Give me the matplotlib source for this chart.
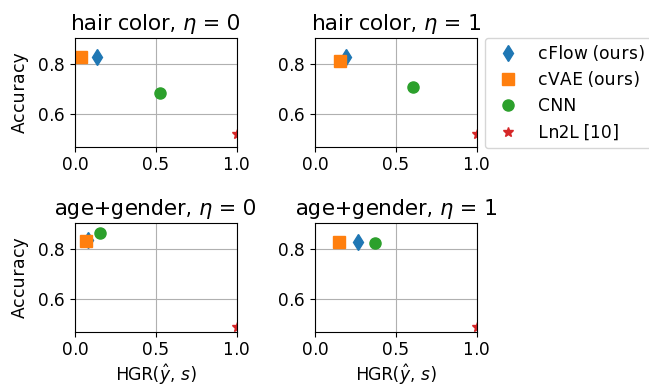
import matplotlib
matplotlib.use("Agg")
import matplotlib.pyplot as plt

titles = ["hair color, $\\eta$ = 0", "hair color, $\\eta$ = 1",
          "age+gender, $\\eta$ = 0", "age+gender, $\\eta$ = 1"]
methods = ["cFlow (ours)", "cVAE (ours)", "CNN", "Ln2L [10]"]

# HGR values per panel: [cFlow, cVAE, CNN, Ln2L]
hgr_hair_0 = [0.138, 0.040, 0.528, 1.0]
hgr_hair_1 = [0.189, 0.154, 0.603, 1.0]
hgr_age_0 = [0.083, 0.068, 0.155, 1.0]
hgr_age_1 = [0.267, 0.148, 0.368, 1.0]
# Accuracy per panel
acc_hair_0 = [0.830, 0.829, 0.686, 0.522]
acc_hair_1 = [0.830, 0.812, 0.709, 0.522]
acc_age_0 = [0.836, 0.834, 0.865, 0.489]
acc_age_1 = [0.827, 0.827, 0.825, 0.489]

hgr = [hgr_hair_0, hgr_hair_1, hgr_age_0, hgr_age_1]
acc = [acc_hair_0, acc_hair_1, acc_age_0, acc_age_1]

markers = ["d", "s", "o", "*"]
colors = ["C0", "C1", "C2", "C3"]
sizes = [8.3, 8, 8, 7]

plt.rcParams["font.size"] = 12
plt.rcParams["text.hinting"] = "auto"
plt.rcParams["text.hinting_factor"] = 1
plt.rcParams["text.kerning_factor"] = 6
fig, axes = plt.subplots(2, 2, figsize=(6.49, 3.87), dpi=100)
fig.subplots_adjust(left=0.1156, right=0.7345, top=0.902, bottom=0.143,
                    wspace=0.487, hspace=0.70)

for k, ax in enumerate(axes.flat):
    for m in range(len(methods)):
        ax.plot(hgr[k][m], acc[k][m], linestyle="none", marker=markers[m],
                color=colors[m], markersize=sizes[m], label=methods[m])
    ax.set_title(titles[k], fontsize=14.8)
    ax.set_xlim(0, 1)
    ax.set_ylim(0.47, 0.905)
    ax.set_xticks([0.0, 0.5, 1.0])
    ax.set_yticks([0.6, 0.8])
    ax.grid(True, color="#b0b0b0", linewidth=0.8)
    ax.set_axisbelow(True)

axes[0, 0].set_ylabel("Accuracy", labelpad=6.5)
axes[1, 0].set_ylabel("Accuracy", labelpad=6.5)
axes[1, 0].set_xlabel("HGR($\\hat{y}$, $s$)", labelpad=2)
axes[1, 1].set_xlabel("HGR($\\hat{y}$, $s$)", labelpad=2)

axes[0, 1].legend(loc="upper left", bbox_to_anchor=(1.05, 1.0),
                  borderaxespad=0, fontsize=12)

fig.savefig("out.png", dpi=100)
